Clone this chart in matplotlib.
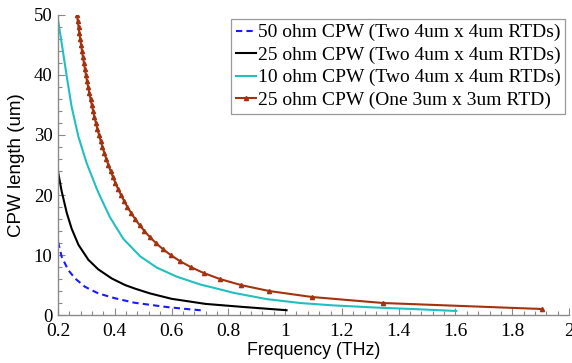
import matplotlib.pyplot as plt
from matplotlib.ticker import MultipleLocator

# 50 ohm CPW (two 4um x 4um RTDs)
f_50 = [0.2, 0.213, 0.236, 0.26, 0.295, 0.342, 0.4, 0.469, 0.524, 0.58, 0.642, 0.712]
len_50 = [12.2, 9.7, 7.5, 6.1, 4.7, 3.6, 2.8, 2.05, 1.7, 1.35, 1.05, 0.75]

# 25 ohm CPW (two 4um x 4um RTDs)
f_25 = [0.2, 0.213, 0.231, 0.248, 0.272, 0.307, 0.342, 0.389, 0.436, 0.471, 0.524, 0.6, 0.72, 0.85, 1.005]
len_25 = [23.9, 20.6, 17.0, 14.4, 11.7, 9.2, 7.6, 6.1, 5.0, 4.4, 3.6, 2.7, 1.85, 1.35, 0.8]

# 10 ohm CPW (two 4um x 4um RTDs)
f_10 = [0.2, 0.213, 0.231, 0.248, 0.272, 0.301, 0.336, 0.348, 0.383, 0.43, 0.489, 0.548, 0.618,
        0.70, 0.76, 0.818, 0.935, 1.053, 1.17, 1.33, 1.45, 1.603]
len_10 = [49.2, 45.3, 39.7, 34.7, 29.7, 25.3, 21.1, 19.8, 16.3, 12.7, 9.8, 7.9, 6.4,
          5.1, 4.4, 3.7, 2.65, 2.0, 1.6, 1.22, 1.0, 0.67]

# 25 ohm CPW (one 3um x 3um RTD), one marker per um of length
len_one = [50, 49, 48, 47, 46, 45, 44, 43, 42, 41, 40, 39, 38, 37, 36, 35, 34, 33, 32, 31,
           30, 29, 28, 27, 26, 25, 24, 23, 22, 21, 20, 19, 18, 17, 16, 15, 14, 13, 12, 11,
           10, 9, 8, 7, 6, 5, 4, 3, 2, 1]
f_one = [0.2668, 0.2695, 0.2723, 0.2752, 0.2782, 0.2813, 0.2844, 0.2877, 0.2911, 0.2947,
         0.2983, 0.3021, 0.3061, 0.3102, 0.3145, 0.3189, 0.3236, 0.3284, 0.3335, 0.3389,
         0.3445, 0.3504, 0.3566, 0.3631, 0.3700, 0.3774, 0.3851, 0.3934, 0.4023, 0.4117,
         0.4219, 0.4329, 0.4447, 0.4576, 0.4717, 0.4872, 0.5043, 0.5233, 0.5447, 0.5689,
         0.5967, 0.6289, 0.6671, 0.7131, 0.7703, 0.8438, 0.9434, 1.095, 1.345, 1.905]

labels = ["50 ohm CPW (Two 4um x 4um RTDs)",
          "25 ohm CPW (Two 4um x 4um RTDs)",
          "10 ohm CPW (Two 4um x 4um RTDs)",
          "25 ohm CPW (One 3um x 3um RTD)"]

xticks = [0.2, 0.4, 0.6, 0.8, 1.0, 1.2, 1.4, 1.6, 1.8, 2.0]
xticklabels = ["0.2", "0.4", "0.6", "0.8", "1", "1.2", "1.4", "1.6", "1.8", "2"]
yticks = [0, 10, 20, 30, 40, 50]

serif = "Liberation Serif"
sans = "Liberation Sans"

fig = plt.figure(figsize=(5.72, 3.63), dpi=100)
ax = fig.add_axes([0.1014, 0.1322, 0.8934, 0.8265])

ax.plot(f_50, len_50, color="#1a1aff", ls=(0, (3, 2)), lw=1.5, label=labels[0])
ax.plot(f_25, len_25, color="black", lw=1.5, label=labels[1])
ax.plot(f_10, len_10, color="#22bfc0", lw=1.5, label=labels[2])
ax.plot(f_one, len_one, color="#a3330f", lw=1.5, marker="^", ms=3, label=labels[3])

ax.set_xlim(0.2, 2.0)
ax.set_ylim(0, 50)
ax.set_xticks(xticks)
ax.set_xticklabels(xticklabels, fontfamily=serif, fontsize=14)
ax.set_yticks(yticks)
ax.set_yticklabels([str(v) for v in yticks], fontfamily=serif, fontsize=13.5)
ax.xaxis.set_minor_locator(MultipleLocator(0.04))
ax.yaxis.set_minor_locator(MultipleLocator(2))

for s in ["top", "right"]:
    ax.spines[s].set_visible(False)
for s in ["left", "bottom"]:
    ax.spines[s].set_color("#8a8a8a")
    ax.spines[s].set_linewidth(1.0)

ax.tick_params(which="both", direction="in", color="#8a8a8a", width=0.8)
ax.tick_params(which="major", length=5)
ax.tick_params(which="minor", length=3)
ax.tick_params(axis="x", pad=6)
ax.tick_params(axis="y", pad=4)

ax.set_xlabel("Frequency (THz)", fontfamily=sans, fontsize=12.8, labelpad=1)
ax.set_ylabel("CPW length (um)", fontfamily=sans, fontsize=13.5, labelpad=6)

leg = ax.legend(loc="upper right", bbox_to_anchor=(1.0, 1.0), prop={"family": serif, "size": 14},
                handlelength=1.0, handletextpad=0.1, borderpad=0.25, labelspacing=0.25,
                fancybox=False, framealpha=1, borderaxespad=0.2)
leg.get_frame().set_edgecolor("#999999")
leg.get_frame().set_linewidth(0.9)

fig.savefig("out.png", dpi=100)
